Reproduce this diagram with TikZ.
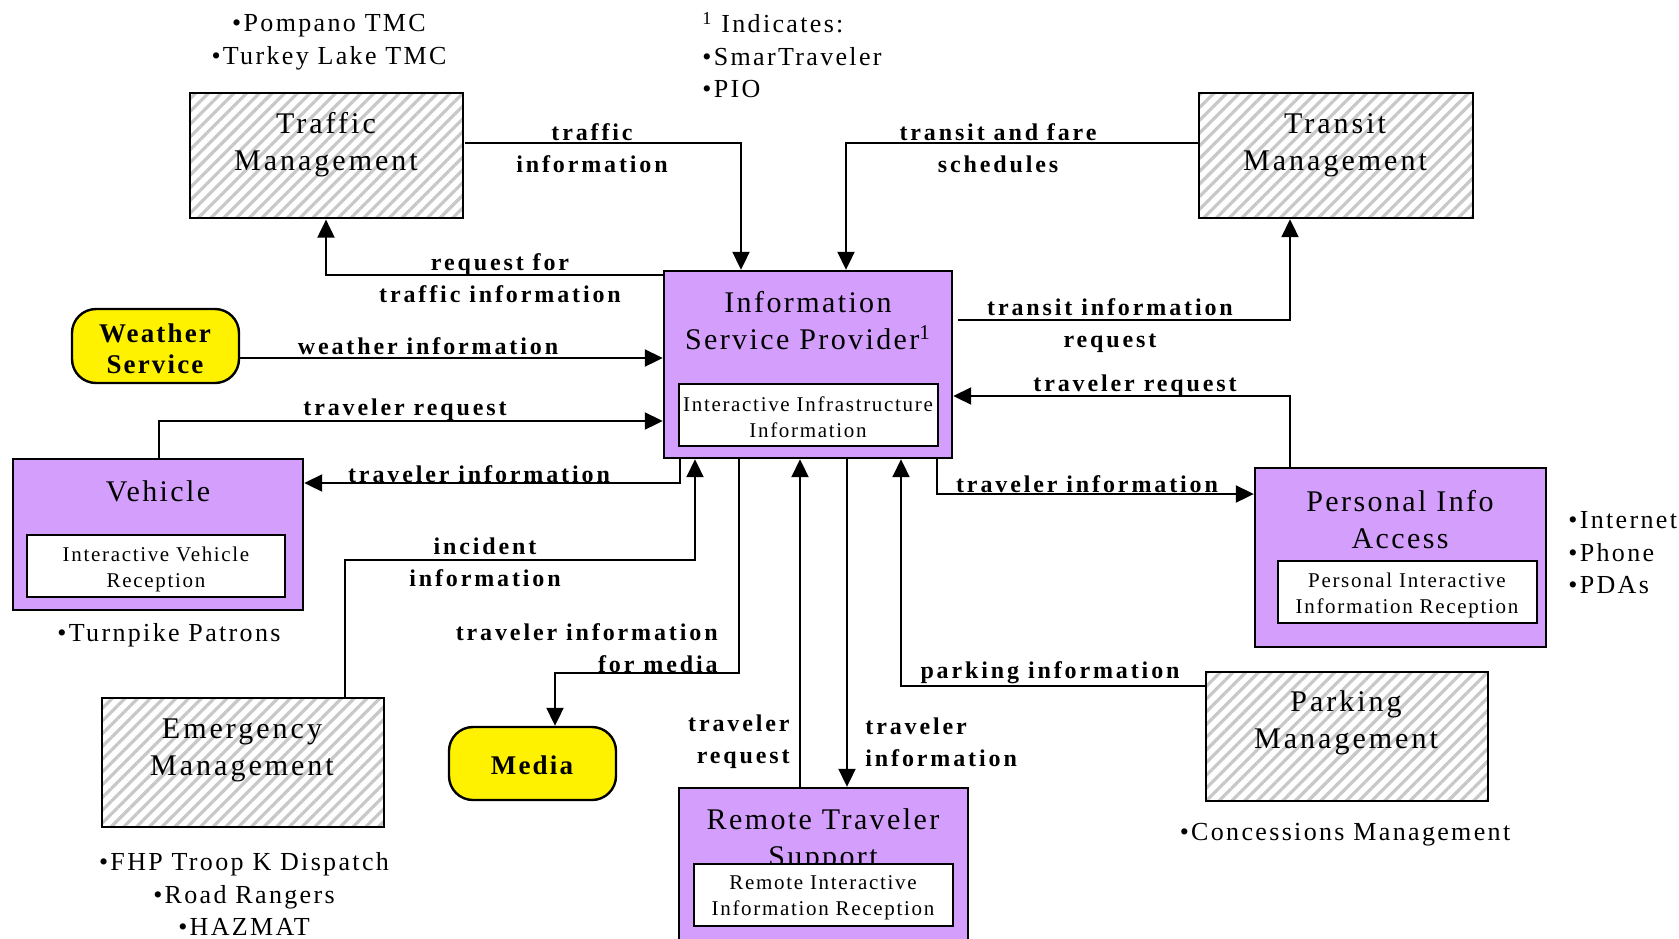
\documentclass[tikz,border=0pt]{standalone}
\usepackage{fontspec}
\setmainfont{Liberation Serif}
\newfontfamily\boxfont[LetterSpace=8]{Liberation Serif}
\newfontfamily\wideboxfont[LetterSpace=10]{Liberation Serif}
\newfontfamily\lblfont[LetterSpace=12]{Liberation Serif}
\newfontfamily\notefont[LetterSpace=9]{Liberation Serif}
\usepackage{tikz}
\usetikzlibrary{arrows.meta,positioning,fit,patterns.meta}
\definecolor{ispviolet}{RGB}{211,158,252}
\definecolor{hatchgray}{RGB}{200,200,200}

\begin{document}
\begin{tikzpicture}[x=0.5pt,y=-0.5pt,
  box/.style={draw,line width=1.2pt,inner sep=0pt},
  hatchbox/.style={box,pattern={Lines[angle=45,distance=4.5pt,line width=1.6pt]},pattern color=hatchgray},
  violetbox/.style={box,fill=ispviolet},
  subbox/.style={box,fill=white},
  roundbox/.style={box,fill=yellow,rounded corners=12pt},
  title/.style={inner sep=0pt,align=center,font=\boxfont\fontsize{15}{18.5}\selectfont},
  hatchtitle/.style={title,font=\wideboxfont\fontsize{15}{18.5}\selectfont},
  roundtitle/.style={inner sep=0pt,align=center,font=\boxfont\bfseries\fontsize{13.5}{15.5}\selectfont},
  subtitle/.style={inner sep=0pt,align=center,font=\boxfont\fontsize{10.5}{13}\selectfont},
  note/.style={inner sep=0pt,font=\notefont\fontsize{13}{16.2}\selectfont},
  lbl/.style={inner sep=0pt,align=center,font=\lblfont\bfseries\fontsize{12}{16}\selectfont},
  arr/.style={line width=1pt,-{Triangle[length=9pt,width=8.5pt]}}]
  \clip (0,0) rectangle (1679,938);

  \node[hatchbox,fit={(190,93)(463,218)}] (tm) {};
  \node[hatchtitle] (tmtext) at (326,145) {Traffic\\Management};
  \node[hatchbox,fit={(1199,93)(1473,218)}] (trm) {};
  \node[hatchtitle] (trmtext) at (1335,145) {Transit\\Management};
  \node[violetbox,fit={(664,271)(952,458)}] (isp) {};
  \node[title] (isptext) at (808,321) {Information\\Service Provider\textsuperscript{1}};
  \node[subbox,fit={(679,384)(938,446)}] (ispsub) {};
  \node[subtitle] (ispsubtext) at (808,417) {Interactive Infrastructure\\Information};
  \node[roundbox,fit={(72,309)(239,383)}] (ws) {};
  \node[roundtitle] (wstext) at (155,349) {Weather\\Service};
  \node[violetbox,fit={(13,459)(303,610)}] (veh) {};
  \node[title] (vehtext) at (158,491) {Vehicle};
  \node[subbox,fit={(27,535)(285,597)}] (vehsub) {};
  \node[subtitle] (vehsubtext) at (156,569) {Interactive Vehicle\\Reception};
  \node[violetbox,fit={(1255,468)(1546,647)}] (pia) {};
  \node[title] (piatext) at (1400,520) {Personal Info\\Access};
  \node[subbox,fit={(1278,561)(1537,623)}] (piasub) {};
  \node[subtitle] (piasubtext) at (1407,595) {Personal Interactive\\Information Reception};
  \node[hatchbox,fit={(102,698)(384,827)}] (em) {};
  \node[hatchtitle] (emtext) at (242,750) {Emergency\\Management};
  \node[roundbox,fit={(449,727)(616,800)}] (media) {};
  \node[roundtitle] (mediatext) at (532,765) {Media};
  \node[hatchbox,fit={(1206,672)(1488,801)}] (pm) {};
  \node[hatchtitle] (pmtext) at (1346,723) {Parking\\Management};
  \node[violetbox,fit={(679,788)(968,950)}] (rts) {};
  \node[title] (rtstext) at (823,841) {Remote Traveler\\Support};
  \node[subbox,fit={(694,864)(953,926)}] (rtssub) {};
  \node[subtitle] (rtssubtext) at (823,898) {Remote Interactive\\Information Reception};

  \node[note,align=center] (tmnote) at (329,42) {•Pompano TMC\\•Turkey Lake TMC};
  \node[note,align=left,anchor=west] (ispnote) at (702,55) {\textsuperscript{1} Indicates:\\•SmarTraveler\\•PIO};
  \node[note] (vehnote) at (169,635) {•Turnpike Patrons};
  \node[note,align=center] (emnote) at (244,894) {•FHP Troop K Dispatch\\•Road Rangers\\•HAZMAT};
  \node[note,align=left,anchor=west] (pianote) at (1568,553) {•Internet\\•Phone\\•PDAs};
  \node[note] (pmnote) at (1345,835) {•Concessions Management};

  \draw[arr] (tm.east |- 0,143) -| (isp.north -| 741,0);
  \draw[arr] (trm.west |- 0,143) -| (isp.north -| 846,0);
  \draw[arr] (isp.west |- 0,275) -| (tm.south -| 326,0);
  \draw[arr] (ws.east |- 0,358) -- (isp.west |- 0,358);
  \draw[arr] (veh.north -| 159,0) |- (isp.west |- 0,421);
  \draw[arr] (isp.south -| 680,0) |- (veh.east |- 0,483);
  \draw[arr] (em.north -| 345,0) -- (345,560) -| (isp.south -| 695,0);
  \draw[arr] (isp.south -| 739,0) -- (739,673) -| (media.north -| 555,0);
  \draw[arr] (rts.north -| 800,0) -- (isp.south -| 800,0);
  \draw[arr] (isp.south -| 847,0) -- (rts.north -| 847,0);
  \draw[arr] (pm.west |- 0,686) -| (isp.south -| 901,0);
  \draw[arr] (isp.south -| 937,0) |- (pia.west |- 0,494);
  \draw[arr] (pia.north -| 1290,0) |- (isp.east |- 0,396);
  \draw[arr] ([xshift=2.5pt]isp.east |- 0,320) -| (trm.south -| 1290,0);

  \node[lbl] (trafficlbl) at (592,148) {traffic\\information};
  \node[lbl] (farelbl) at (998,148) {transit and fare\\schedules};
  \node[lbl] (reqlbl) at (500,278) {request for\\traffic information};
  \node[lbl] (weatherlbl) at (428,346) {weather information};
  \node[lbl] (vehreqlbl) at (405,410) {traveler request};
  \node[lbl] (transreqlbl) at (1110,326) {transit information\\request};
  \node[lbl] (piareqlbl) at (1135,386) {traveler request};
  \node[lbl] (vehinfolbl) at (479,474) {traveler information};
  \node[lbl] (piainfolbl) at (1087,484) {traveler information};
  \node[lbl] (incidentlbl) at (485,562) {incident\\information};
  \node[lbl,align=right,anchor=east] (medialbl) at (718,648) {traveler information\\for media};
  \node[lbl] (parkinglbl) at (1050,673) {parking information};
  \node[lbl,align=right,anchor=east] (rtsreqlbl) at (790,742) {traveler\\request};
  \node[lbl,align=left,anchor=west] (rtsinfolbl) at (865,742) {traveler\\information};
\end{tikzpicture}
\end{document}
